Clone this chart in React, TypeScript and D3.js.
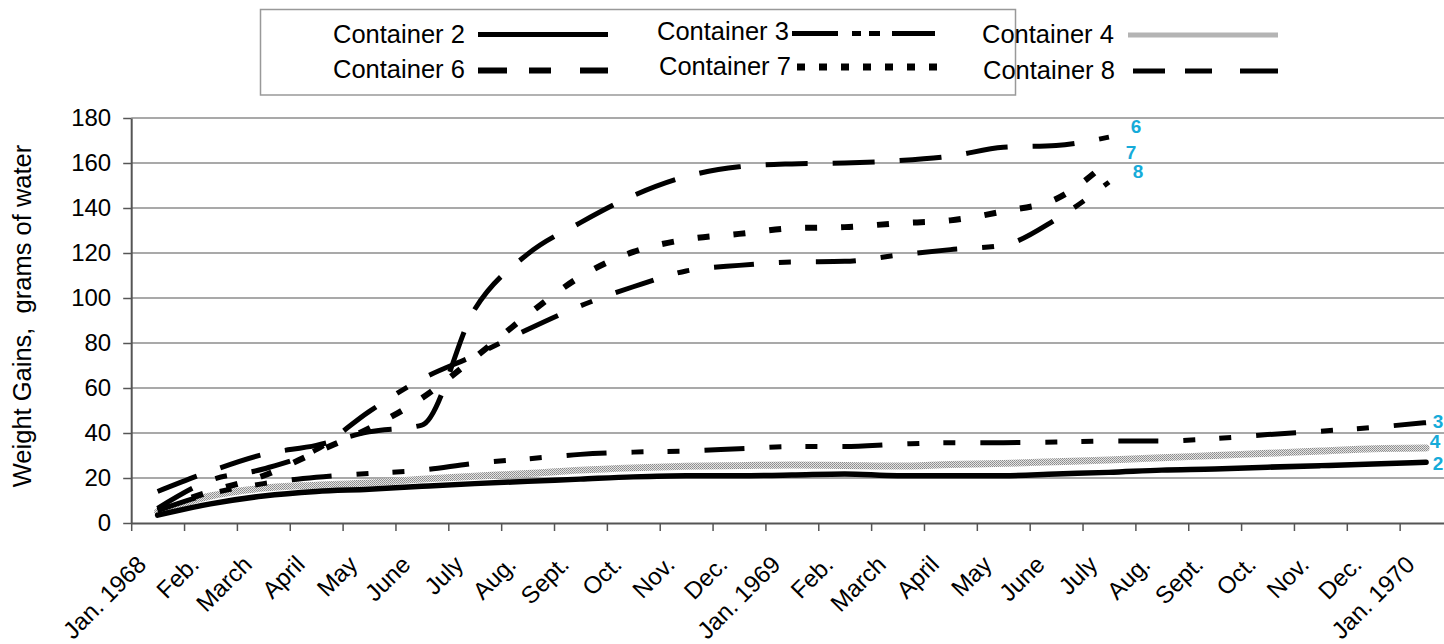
import React, { useEffect, useRef } from "react";
import * as d3 from "d3";

// month categories on the x axis
const months = [
  "Jan. 1968", "Feb.", "March", "April", "May", "June", "July", "Aug.", "Sept.", "Oct.", "Nov.", "Dec.",
  "Jan. 1969", "Feb.", "March", "April", "May", "June", "July", "Aug.", "Sept.", "Oct.", "Nov.", "Dec.",
  "Jan. 1970",
];
const yTicks = [0, 20, 40, 60, 80, 100, 120, 140, 160, 180];

// weight gains, grams of water
const container2 = [3.5, 8.5, 12, 14, 15, 16.3, 17.5, 18.5, 19.5, 20.5, 21, 21, 21.3, 21.8, 21, 21, 21, 21.8, 22.5, 23.5, 24, 24.8, 25.5, 26.2, 27];
const container3 = [5.5, 13, 17.5, 20.3, 22, 23.5, 26.5, 28.5, 30.5, 31.5, 32, 33, 34, 34, 35, 35.7, 35.7, 36, 36.4, 36.4, 37.5, 39.3, 40.8, 42.5, 44.6];
const container4 = [5, 12, 15.5, 16.8, 17.8, 19.5, 20.8, 22, 23.5, 24.5, 25.2, 25.5, 25.8, 25.6, 25.3, 26, 26.5, 27.2, 28, 29, 30, 31, 32, 33, 33.3];
const container6 = [14, 23, 30.5, 34.5, 40.5, 43.5, 95, 119.5, 133.5, 145.5, 154, 158.3, 159.6, 160, 161, 163, 167, 167.8, 171.5];
const container7 = [6, 14, 21, 31.5, 42, 55.5, 73.5, 92.5, 109.5, 120.5, 126, 128.5, 131, 131.5, 133.2, 134.5, 138.5, 144, 161];
const container8 = [6.5, 19, 24, 32.5, 49.5, 64, 74.5, 86, 96.5, 105, 112, 114.5, 116, 116.3, 119, 121.5, 123.5, 135, 151.5];

const seriesNames = ["Container 2", "Container 3", "Container 4", "Container 6", "Container 7", "Container 8"];
const seriesValues = [container2, container3, container4, container6, container7, container8];
const endLabels = ["2", "3", "4", "6", "7", "8"];

const W = 1444, H = 644;
const plotLeft = 131.2, plotRight = 1452.5, plotTop = 118, plotBottom = 523;
const font = "'Liberation Sans', Arial, Helvetica, sans-serif";
const labelBlue = "#16abd9";

// drawing style per series: stroke, width, dash in plot, dash in legend, end label offset
const looks: Record<string, any> = {
  "Container 2": { stroke: "#000", w: 5.5, dash: null, ldash: null, lw: 5, off: [12, 8] },
  "Container 3": { stroke: "#000", w: 5, dash: "40,25,12,24,12,25", ldash: "46,14,9,8,11,12,48", lw: 5, off: [12, 5] },
  "Container 4": { stroke: "url(#stip)", w: 7, dash: null, ldash: null, lw: 5, off: [9, 0] },
  "Container 6": { stroke: "#000", w: 5, dash: "42,25", ldash: "29,22,22,29,29", lw: 6, off: [27, -4] },
  "Container 7": { stroke: "#000", w: 6, dash: "12,24", ldash: "8,14", lw: 7, off: [22, -2] },
  "Container 8": { stroke: "#000", w: 5, dash: "40,25,12,25", ldash: "32,20,27,28,38", lw: 5, off: [29, -4] },
};

// legend slots (text start, sample x range, baseline, sample y)
const legendSlots = [
  { tx: 333, x1: 478, x2: 608, ty: 43, ly: 34.5 },
  { tx: 657, x1: 792, x2: 935, ty: 39.5, ly: 33.5 },
  { tx: 982, x1: 1128, x2: 1278, ty: 43, ly: 35 },
  { tx: 333, x1: 478, x2: 608, ty: 77.5, ly: 70.5 },
  { tx: 659, x1: 797, x2: 945, ty: 74.5, ly: 67 },
  { tx: 983, x1: 1133, x2: 1278, ty: 79, ly: 71 },
];

function App() {
  const svgRef = useRef<SVGSVGElement>(null);

  useEffect(() => {
    const svg = d3.select(svgRef.current);
    svg.selectAll("*").remove();
    svg.attr("width", W).attr("height", H).style("font-family", font);

    const defs = svg.append("defs");
    const pat = defs.append("pattern").attr("id", "stip")
      .attr("width", 2).attr("height", 2).attr("patternUnits", "userSpaceOnUse");
    pat.append("rect").attr("width", 2).attr("height", 2).attr("fill", "#e4e4e4");
    pat.append("rect").attr("width", 1).attr("height", 1).attr("fill", "#8a8a8a");
    pat.append("rect").attr("x", 1).attr("y", 1).attr("width", 1).attr("height", 1).attr("fill", "#9a9a9a");

    svg.append("rect").attr("width", W).attr("height", H).attr("fill", "#fff");

    const x = d3.scaleBand<number>().domain(d3.range(months.length)).range([plotLeft, plotRight]).padding(0);
    const xb = d3.scaleLinear().domain([0, months.length]).range([plotLeft, plotRight]);
    const y = d3.scaleLinear().domain([0, 180]).range([plotBottom, plotTop]);
    const cx = (i: number) => (x(i) as number) + x.bandwidth() / 2;

    // gridlines
    svg.append("g").selectAll("line")
      .data(yTicks.filter(t => t > 0))
      .join("line")
      .attr("x1", plotLeft).attr("x2", plotRight)
      .attr("y1", d => y(d)).attr("y2", d => y(d))
      .attr("stroke", "#555").attr("stroke-width", 1.2);

    // y axis
    const yAxis = svg.append("g").attr("transform", `translate(${plotLeft},0)`)
      .call(d3.axisLeft(y).tickValues(yTicks).tickSize(8).tickSizeOuter(0).tickPadding(12));
    yAxis.select(".domain").attr("stroke", "#555").attr("stroke-width", 2);
    yAxis.selectAll(".tick line").attr("stroke", "#555").attr("stroke-width", 1.5);
    yAxis.selectAll("text").attr("font-size", 24).attr("font-family", font).attr("fill", "#000");

    // x axis: ticks between months
    const xAxis = svg.append("g").attr("transform", `translate(0,${plotBottom})`)
      .call(d3.axisBottom(xb).tickValues(d3.range(months.length + 1)).tickSize(8).tickSizeOuter(0).tickFormat(() => ""));
    xAxis.select(".domain").attr("stroke", "#555").attr("stroke-width", 2);
    xAxis.selectAll(".tick line").attr("stroke", "#555").attr("stroke-width", 1.5);

    svg.append("g").selectAll("text")
      .data(months)
      .join("text")
      .attr("transform", (d, i) => `translate(${cx(i) - 10},${plotBottom + 43}) rotate(-45)`)
      .attr("text-anchor", "end")
      .attr("font-size", 24)
      .attr("fill", "#000")
      .text(d => d);

    // y title
    svg.append("text")
      .attr("transform", `translate(31,316) rotate(-90)`)
      .attr("text-anchor", "middle")
      .attr("font-size", 25.5)
      .attr("fill", "#000")
      .text("Weight Gains,\u00a0 grams of water");

    // series lines
    const line = d3.line<number>()
      .x((d, i) => cx(i))
      .y(d => y(d))
      .curve(d3.curveMonotoneX);

    const order = [2, 0, 1, 5, 4, 3];
    const lines = svg.append("g");
    order.forEach(k => {
      const name = seriesNames[k];
      const lk = looks[name];
      lines.append("path")
        .datum(seriesValues[k])
        .attr("d", line)
        .attr("fill", "none")
        .attr("stroke", lk.stroke)
        .attr("stroke-width", lk.w)
        .attr("stroke-dasharray", lk.dash)
        .attr("stroke-linecap", lk.dash ? "butt" : "round")
        .attr("stroke-linejoin", "round");
    });

    // end labels
    svg.append("g").selectAll("text")
      .data(seriesNames)
      .join("text")
      .attr("x", (d, k) => cx(seriesValues[k].length - 1) + looks[d].off[0])
      .attr("y", (d, k) => y(seriesValues[k][seriesValues[k].length - 1]) + looks[d].off[1])
      .attr("text-anchor", "middle")
      .attr("font-size", 19)
      .attr("font-weight", "bold")
      .attr("fill", labelBlue)
      .text((d, k) => endLabels[k]);

    // legend
    const lg = svg.append("g");
    lg.append("rect")
      .attr("x", 260.5).attr("y", 9.5).attr("width", 755).attr("height", 85.5)
      .attr("fill", "#fff").attr("stroke", "#999").attr("stroke-width", 1.5);
    seriesNames.forEach((name, k) => {
      const s = legendSlots[k];
      const lk = looks[name];
      lg.append("text")
        .attr("x", s.tx).attr("y", s.ty)
        .attr("font-size", 25.5).attr("fill", "#000")
        .text(name);
      lg.append("line")
        .attr("x1", s.x1).attr("x2", s.x2).attr("y1", s.ly).attr("y2", s.ly)
        .attr("stroke", name === "Container 4" ? "#b4b4b4" : lk.stroke)
        .attr("stroke-width", lk.lw)
        .attr("stroke-dasharray", lk.ldash);
    });
  }, []);

  return (
    <div style={{ position: "absolute", left: 0, top: 0 }}>
      <svg ref={svgRef} style={{ display: "block" }} />
    </div>
  );
}

export default App;
